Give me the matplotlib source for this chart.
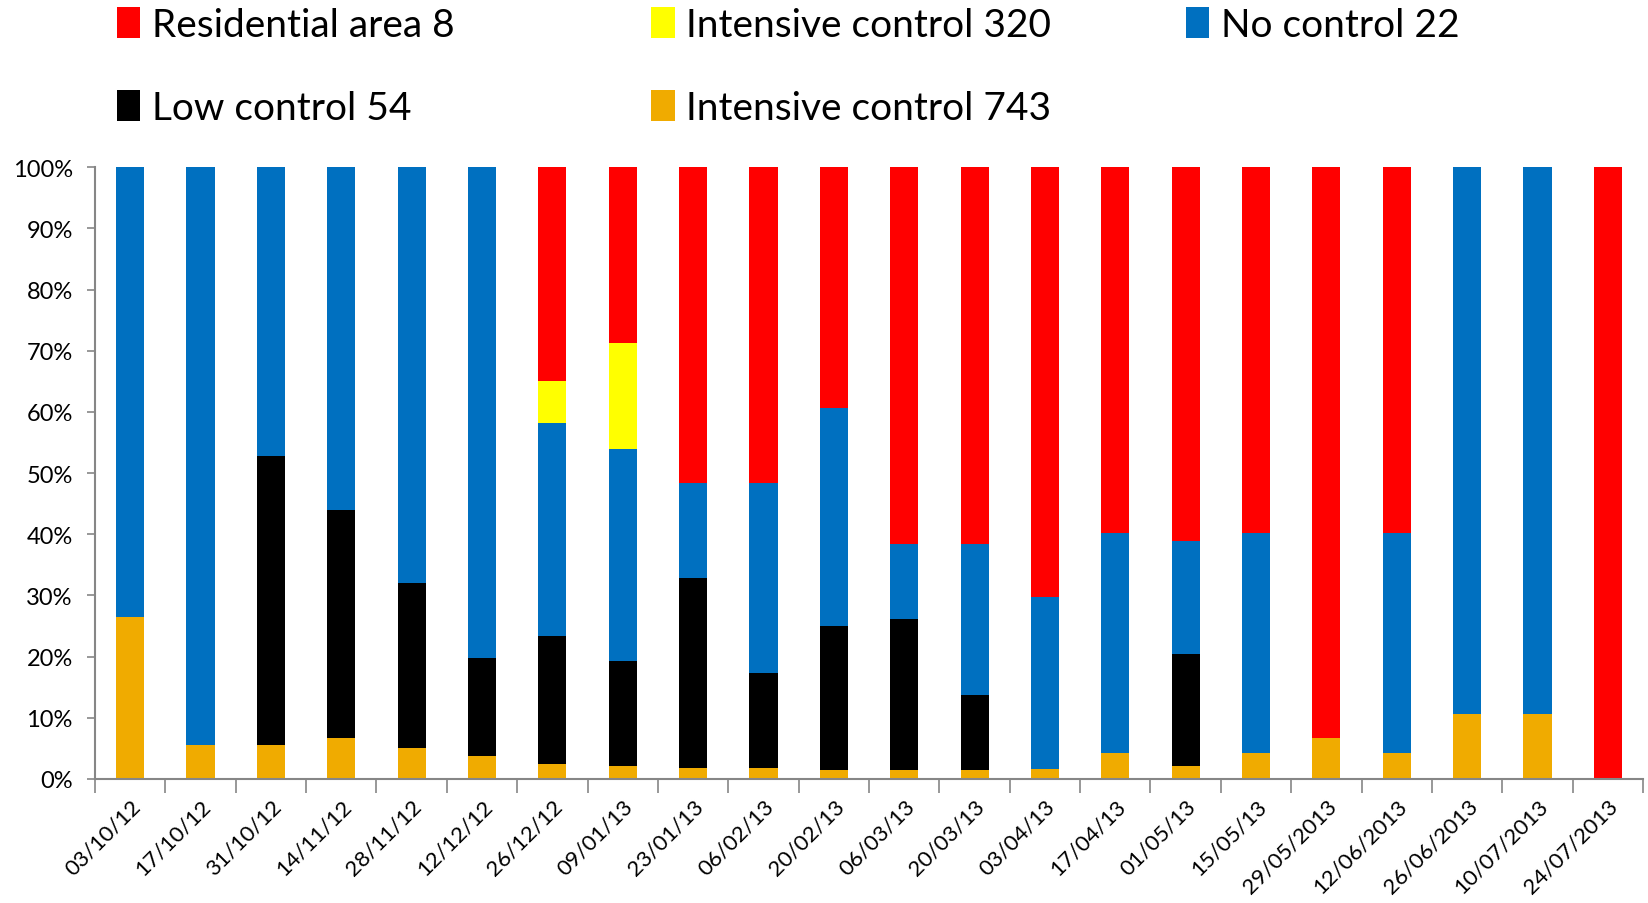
import numpy as np
import matplotlib
matplotlib.use('Agg')
import matplotlib.pyplot as plt
from matplotlib.patches import Patch

plt.rcParams['font.family'] = ['Lato', 'DejaVu Sans']

dates = ['03/10/12', '17/10/12', '31/10/12', '14/11/12', '28/11/12', '12/12/12',
         '26/12/12', '09/01/13', '23/01/13', '06/02/13', '20/02/13', '06/03/13',
         '20/03/13', '03/04/13', '17/04/13', '01/05/13', '15/05/13', '29/05/2013',
         '12/06/2013', '26/06/2013', '10/07/2013', '24/07/2013']

# share of each site per sampling date (%), stacked bottom to top
intensive_743 = [26.4, 5.6, 5.6, 6.7, 5.0, 3.8, 2.5, 2.1, 1.8, 1.8, 1.4,
                 1.5, 1.5, 1.6, 4.3, 2.2, 4.3, 6.7, 4.3, 10.7, 10.7, 0.0]
low_54 = [0.0, 0.0, 47.2, 37.3, 27.0, 16.0, 20.8, 17.2, 31.0, 15.6, 23.6,
          24.6, 12.3, 0.0, 0.0, 18.3, 0.0, 0.0, 0.0, 0.0, 0.0, 0.0]
no_control_22 = [73.6, 94.4, 47.2, 56.0, 68.0, 80.2, 34.9, 34.6, 15.6, 31.0, 35.6,
                 12.3, 24.6, 28.2, 35.9, 18.4, 35.9, 0.0, 35.9, 89.3, 89.3, 0.0]
intensive_320 = [0.0, 0.0, 0.0, 0.0, 0.0, 0.0, 6.9, 17.3, 0.0, 0.0, 0.0,
                 0.0, 0.0, 0.0, 0.0, 0.0, 0.0, 0.0, 0.0, 0.0, 0.0, 0.0]
residential_8 = [0.0, 0.0, 0.0, 0.0, 0.0, 0.0, 34.9, 28.8, 51.6, 51.6, 39.4,
                 61.6, 61.6, 70.2, 59.8, 61.1, 59.8, 93.3, 59.8, 0.0, 0.0, 100.0]

series = [
    ('Intensive control 743', intensive_743, '#F0AB00'),
    ('Low control 54', low_54, '#000000'),
    ('No control 22', no_control_22, '#0070C0'),
    ('Intensive control 320', intensive_320, '#FFFF00'),
    ('Residential area 8', residential_8, '#FF0000'),
]

data = np.array([s[1] for s in series], dtype=float)
data = data / data.sum(axis=0) * 100  # normalise each date to 100 %

fig = plt.figure(figsize=(16.49, 9.04), dpi=100)
ax = fig.add_axes([0.0576, 0.1372, 0.9388, 0.6768])

x = np.arange(len(dates))
bottom = np.zeros(len(dates))
for (name, _, color), vals in zip(series, data):
    ax.bar(x, vals, 0.4, bottom=bottom, color=color, label=name, linewidth=0)
    bottom += vals

grey = '#868686'
ax.set_xlim(-0.5, len(dates) - 0.5)
ax.set_ylim(0, 100)
ax.set_yticks(np.arange(0, 101, 10))
ax.set_yticklabels([f'{v}%' for v in range(0, 101, 10)], fontsize=17)
ax.set_xticks(x)
ax.set_xticklabels(dates, rotation=45, ha='right', va='top',
                   rotation_mode='anchor', fontsize=16)
ax.set_xticks(np.arange(-0.5, len(dates)), minor=True)
ax.tick_params(axis='x', which='major', length=0, pad=12)
ax.tick_params(axis='x', which='minor', length=10, width=1.2, color=grey)
ax.tick_params(axis='y', length=6, width=1.2, color=grey, pad=10)
for side in ['top', 'right']:
    ax.spines[side].set_visible(False)
for side in ['left', 'bottom']:
    ax.spines[side].set_color(grey)
    ax.spines[side].set_linewidth(1.5)

# legend laid out as three separate columns
colours = {name: color for name, _, color in series}
columns = [
    (['Residential area 8', 'Low control 54'], 0.0708),
    (['Intensive control 320', 'Intensive control 743'], 0.395),
    (['No control 22'], 0.719),
]
for names, xpos in columns:
    handles = [Patch(facecolor=colours[n], edgecolor='none') for n in names]
    fig.legend(handles, names, loc='upper left', bbox_to_anchor=(xpos, 0.991),
               frameon=False, fontsize=28, handlelength=0.6, handleheight=0.85,
               handletextpad=0.3, labelspacing=1.2, borderpad=0,
               borderaxespad=0)

fig.savefig('out.png', dpi=100)
